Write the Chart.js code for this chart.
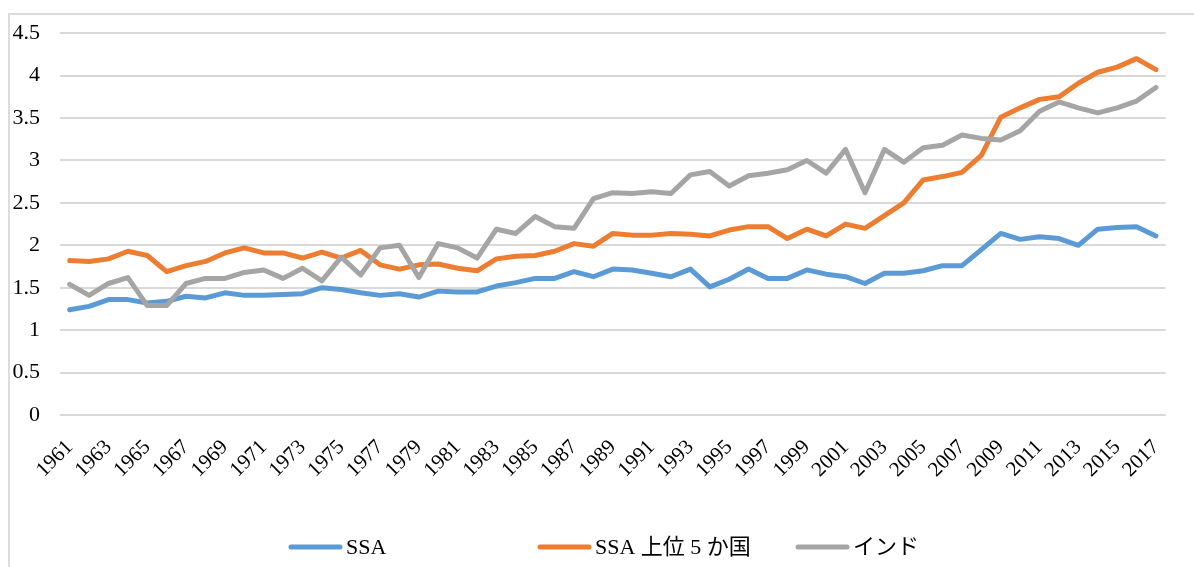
<!DOCTYPE html>
<html lang="ja">
<head>
<meta charset="utf-8">
<title>SSA・インド</title>
<script src="https://cdn.jsdelivr.net/npm/chart.js@4.4.1/dist/chart.umd.min.js"></script>
<style>
  html, body { margin: 0; padding: 0; background: #fff; overflow: hidden; }
  #wrap { position: relative; width: 1194px; height: 567px; }
  #frame {
    position: absolute; left: 8px; top: 13px; width: 1300px; height: 700px;
    border: 2px solid #dcdcdc; box-sizing: border-box;
  }
  canvas { position: absolute; left: 0; top: 0; }
</style>
</head>
<body>
<div id="wrap">
  <div id="frame"></div>
  <canvas id="chart"></canvas>
</div>
<script>
// years 1961 - 2017
const years = [
  "1961","1962","1963","1964","1965","1966","1967","1968","1969","1970",
  "1971","1972","1973","1974","1975","1976","1977","1978","1979","1980",
  "1981","1982","1983","1984","1985","1986","1987","1988","1989","1990",
  "1991","1992","1993","1994","1995","1996","1997","1998","1999","2000",
  "2001","2002","2003","2004","2005","2006","2007","2008","2009","2010",
  "2011","2012","2013","2014","2015","2016","2017"
];

const ssa = [
  1.24, 1.28, 1.36, 1.36, 1.32, 1.34, 1.40, 1.38, 1.44, 1.41,
  1.41, 1.42, 1.43, 1.50, 1.48, 1.44, 1.41, 1.43, 1.39, 1.46,
  1.45, 1.45, 1.52, 1.56, 1.61, 1.61, 1.69, 1.63, 1.72, 1.71,
  1.67, 1.63, 1.72, 1.51, 1.60, 1.72, 1.61, 1.61, 1.71, 1.66,
  1.63, 1.55, 1.67, 1.67, 1.70, 1.76, 1.76, 1.95, 2.14, 2.07,
  2.10, 2.08, 2.00, 2.19, 2.21, 2.22, 2.11
];

const ssaTop5 = [
  1.82, 1.81, 1.84, 1.93, 1.88, 1.69, 1.76, 1.81, 1.91, 1.97,
  1.91, 1.91, 1.85, 1.92, 1.85, 1.94, 1.77, 1.72, 1.77, 1.78,
  1.73, 1.70, 1.84, 1.87, 1.88, 1.93, 2.02, 1.99, 2.14, 2.12,
  2.12, 2.14, 2.13, 2.11, 2.18, 2.22, 2.22, 2.08, 2.19, 2.11,
  2.25, 2.20, 2.35, 2.50, 2.77, 2.81, 2.86, 3.06, 3.51, 3.62,
  3.72, 3.75, 3.91, 4.04, 4.10, 4.20, 4.07
];

const india = [
  1.54, 1.41, 1.55, 1.62, 1.29, 1.29, 1.55, 1.61, 1.61, 1.68,
  1.71, 1.61, 1.73, 1.58, 1.86, 1.65, 1.97, 2.00, 1.62, 2.02,
  1.97, 1.85, 2.19, 2.14, 2.34, 2.22, 2.20, 2.55, 2.62, 2.61,
  2.63, 2.61, 2.83, 2.87, 2.70, 2.82, 2.85, 2.89, 3.00, 2.85,
  3.13, 2.62, 3.13, 2.98, 3.15, 3.18, 3.30, 3.26, 3.24, 3.35,
  3.58, 3.69, 3.62, 3.56, 3.62, 3.70, 3.86
];

const seriesNames = ["SSA", "SSA 上位 5 か国", "インド"];
const seriesColors = ["#5B9BD5", "#ED7D31", "#A5A5A5"];

const FONT = "'Liberation Serif', 'Noto Sans CJK JP', serif";

// Excel style legend: line + label, placed like the original
const legendX = [289, 538, 796];
const legendY = 547;
const excelLegend = {
  id: "excelLegend",
  afterDraw(chart) {
    const ctx = chart.ctx;
    ctx.save();
    ctx.font = "22px " + FONT;
    ctx.textBaseline = "middle";
    ctx.textAlign = "left";
    chart.data.datasets.forEach((ds, i) => {
      const x = legendX[i];
      ctx.strokeStyle = ds.borderColor;
      ctx.lineWidth = 5;
      ctx.lineCap = "round";
      ctx.beginPath();
      ctx.moveTo(x + 2, legendY);
      ctx.lineTo(x + 51, legendY);
      ctx.stroke();
      ctx.fillStyle = "#000";
      ctx.fillText(ds.label, x + 57, legendY + 1);
    });
    ctx.restore();
  }
};

const datasets = [ssa, ssaTop5, india].map((values, i) => ({
  label: seriesNames[i],
  data: values,
  borderColor: seriesColors[i],
  backgroundColor: seriesColors[i],
  borderWidth: 5,
  borderCapStyle: "round",
  borderJoinStyle: "round",
  pointRadius: 0,
  tension: 0,
  order: 3 - i
}));

document.addEventListener("DOMContentLoaded", () => {
  const ctx = document.getElementById("chart");

  new Chart(ctx, {
    type: "line",
    data: { labels: years, datasets: datasets },
    options: {
      responsive: true,
      maintainAspectRatio: false,
      animation: false,
      layout: { padding: { top: 25, right: 27, bottom: 76, left: 0 } },
      plugins: {
        legend: { display: false },
        tooltip: { enabled: false }
      },
      scales: {
        x: {
          offset: true,
          grid: { display: false, drawTicks: false },
          border: { display: false },
          ticks: {
            autoSkip: false,
            maxRotation: 45,
            minRotation: 45,
            padding: 20,
            color: "#000",
            font: { family: FONT, size: 21 },
            callback: (val, idx) => (idx % 2 === 0 ? years[idx] : "")
          },
          afterFit: (scale) => { scale.height = 76; }
        },
        y: {
          min: 0,
          max: 4.5,
          ticks: {
            stepSize: 0.5,
            padding: 20,
            color: "#000",
            font: { family: FONT, size: 22 },
            callback: (v) => String(v)
          },
          grid: { color: "#d9d9d9", lineWidth: 2, drawTicks: false },
          border: { display: false },
          afterFit: (scale) => { scale.width = 60; }
        }
      }
    },
    plugins: [excelLegend]
  });
});
</script>
</body>
</html>
